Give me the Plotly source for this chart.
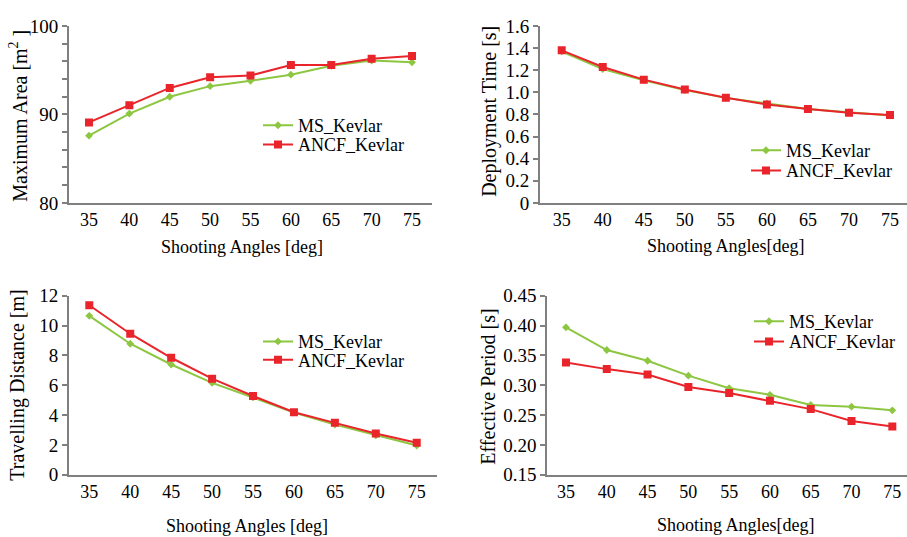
import plotly.graph_objects as go

angles = ["35", "40", "45", "50", "55", "60", "65", "70", "75"]

area_ms = [87.6, 90.1, 92.0, 93.2, 93.8, 94.5, 95.5, 96.1, 95.9]
area_ancf = [89.1, 91.05, 93.0, 94.2, 94.4, 95.6, 95.6, 96.3, 96.6]
time_ms = [1.37, 1.21, 1.11, 1.02, 0.95, 0.90, 0.85, 0.82, 0.79]
time_ancf = [1.38, 1.23, 1.115, 1.025, 0.952, 0.89, 0.85, 0.815, 0.795]
dist_ms = [10.65, 8.78, 7.39, 6.16, 5.18, 4.17, 3.37, 2.64, 1.96]
dist_ancf = [11.36, 9.45, 7.84, 6.44, 5.28, 4.19, 3.48, 2.77, 2.15]
period_ms = [0.397, 0.359, 0.341, 0.316, 0.295, 0.284, 0.267, 0.264, 0.258]
period_ancf = [0.338, 0.327, 0.318, 0.297, 0.287, 0.274, 0.260, 0.240, 0.231]

area_ticks = list(range(80, 101, 2))
area_ticktext = ["80" if v == 80 else "90" if v == 90 else "100" if v == 100 else "" for v in area_ticks]
time_ticks = [0, 0.2, 0.4, 0.6, 0.8, 1.0, 1.2, 1.4, 1.6]
time_ticktext = ["0", "0.2", "0.4", "0.6", "0.8", "1.0", "1.2", "1.4", "1.6"]
dist_ticks = [0, 2, 4, 6, 8, 10, 12]
period_ticks = [0.15, 0.20, 0.25, 0.30, 0.35, 0.40, 0.45]

W, H = 907, 537
GREEN = "#8DC641"
RED = "#E9252B"
AXC = "#808080"
FONT = "Liberation Serif, Times New Roman, Tinos, DejaVu Serif, serif"

def px(x):
    return x / W

def py(y):
    return 1 - y / H

fig = go.Figure()

panels = [
    (area_ms, area_ancf, "x", "y", "legend", "legend2"),
    (time_ms, time_ancf, "x2", "y2", "legend3", "legend4"),
    (dist_ms, dist_ancf, "x3", "y3", "legend5", "legend6"),
    (period_ms, period_ancf, "x4", "y4", "legend7", "legend8"),
]
for ms, ancf, xa, ya, lg1, lg2 in panels:
    fig.add_trace(go.Scatter(x=angles, y=ms, name="MS_Kevlar", mode="lines+markers",
                             line=dict(color=GREEN, width=2),
                             marker=dict(symbol="diamond", size=6, color=GREEN),
                             xaxis=xa, yaxis=ya, legend=lg1, showlegend=True))
    fig.add_trace(go.Scatter(x=angles, y=ancf, name="ANCF_Kevlar", mode="lines+markers",
                             line=dict(color=RED, width=2),
                             marker=dict(symbol="square", size=8, color=RED),
                             xaxis=xa, yaxis=ya, legend=lg2, showlegend=True))

xtickfont = dict(family=FONT, size=18, color="black")
ytickfont = dict(family=FONT, size=19, color="black")

def xax(domain, rng, anchor):
    return dict(type="category", domain=domain, range=rng, anchor=anchor,
                showline=True, linecolor=AXC, linewidth=2, ticks="",
                showgrid=False, zeroline=False, tickfont=xtickfont,
                ticklabelstandoff=0)

def yax(domain, rng, anchor, tickvals, ticktext):
    return dict(domain=domain, range=rng, anchor=anchor,
                showline=True, linecolor=AXC, linewidth=2, ticks="outside",
                ticklen=5, tickcolor=AXC, tickwidth=1.5,
                tickvals=tickvals, ticktext=ticktext,
                showgrid=False, zeroline=False, tickfont=ytickfont)

layout = dict(
    width=W, height=H, margin=dict(l=0, r=0, t=0, b=0),
    plot_bgcolor="white", paper_bgcolor="white",
    showlegend=True,
    font=dict(family=FONT, size=18, color="black"),
    xaxis=xax([px(69), px(432)], [-0.495, 8.495], "y"),
    yaxis=yax([py(200.7), py(16.7)], [80, 100], "x", area_ticks, area_ticktext),
    xaxis2=xax([px(540), 1.0], [-0.529, 8.414], "y2"),
    yaxis2=yax([py(200.7), py(16.7)], [0, 1.6], "x2", time_ticks, time_ticktext),
    xaxis3=xax([px(69), px(437)], [-0.496, 8.495], "y3"),
    yaxis3=yax([py(483.7), py(297.3)], [0, 12], "x3", dist_ticks, [str(v) for v in dist_ticks]),
    xaxis4=xax([px(547.3), 1.0], [-0.458, 8.36], "y4"),
    yaxis4=yax([py(483.7), py(297.3)], [0.15, 0.45], "x4", period_ticks, ["%.2f" % v for v in period_ticks]),
)

def leg(x, top):
    return dict(x=px(x), y=py(top), xanchor="left", yanchor="top",
                bgcolor="rgba(0,0,0,0)", font=dict(family=FONT, size=18, color="black"),
                tracegroupgap=0, itemwidth=30)

layout["legend"] = leg(258, 101)
layout["legend2"] = leg(258, 121)
layout["legend3"] = leg(746, 127)
layout["legend4"] = leg(746, 148)
layout["legend5"] = leg(258, 326)
layout["legend6"] = leg(258, 345)
layout["legend7"] = leg(749, 305)
layout["legend8"] = leg(749, 326)

fig.update_layout(**layout)

titles = [
    ("Shooting Angles [deg]", 242, 247, 0, "middle", 18),
    ("Shooting Angles[deg]", 726, 246, 0, "middle", 18),
    ("Shooting Angles [deg]", 247, 549.5, 0, "bottom", 18),
    ("Shooting Angles[deg]", 736, 548, 0, "bottom", 18),
    ("Maximum Area [m<sup>2</sup> ]", 18, 110, -90, "middle", 20),
    ("Deployment Time [s]", 490, 106, -90, "middle", 20),
    ("Travelling Distance [m]", 18, 391, -90, "middle", 20),
    ("Effective Period [s]", 488, 392, -90, "middle", 20),
]
for text, x, y, ang, ya, fs in titles:
    fig.add_annotation(text=text, x=px(x), y=py(y), xref="paper", yref="paper",
                       xanchor="center", yanchor=ya, showarrow=False,
                       textangle=ang, font=dict(family=FONT, size=fs, color="black"))

fig.write_html("out.html")
